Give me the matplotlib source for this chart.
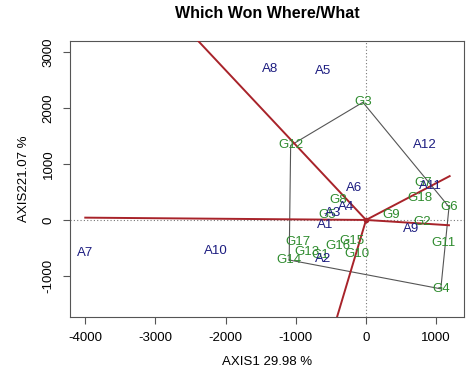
import numpy as np
import matplotlib
matplotlib.use('Agg')
import matplotlib.pyplot as plt

plt.rcParams['font.family'] = ['Liberation Sans', 'DejaVu Sans']
plt.rcParams['axes.unicode_minus'] = False

# %% data (AXIS1, AXIS2 scores)

gen_names = ['G1', 'G2', 'G3', 'G4', 'G5', 'G6', 'G7', 'G8', 'G9', 'G10',
             'G11', 'G12', 'G13', 'G14', 'G15', 'G16', 'G17', 'G18']
gen_x = [-655, 793, -45, 1065, -551, 1182, 807, -394, 352, -124,
         1101, -1074, -845, -1095, -204, -394, -964, 769]
gen_y = [-625, -41, 2100, -1230, 89, 232, 655, 357, 89, -607,
         -405, 1330, -565, -715, -369, -464, -399, 387]

env_names = ['A1', 'A2', 'A3', 'A4', 'A5', 'A6', 'A7', 'A8', 'A9', 'A10', 'A11', 'A12']
env_x = [-584, -608, -466, -289, -608, -166, -4003, -1368, 641, -2141, 912, 840]
env_y = [-89, -702, 130, 238, 2666, 566, -595, 2696, -166, -548, 612, 1339]

# ray lengths for each hull edge, in data units (edge start vertex -> length)
ray_len = {'G3': 5000, 'G12': 4000, 'G14': 5000, 'G4': 1185, 'G6': 1425}

# %% convex hull of the genotypes (monotone chain)

pts = sorted(zip(gen_x, gen_y, gen_names))

def cross(o, a, b):
    return (a[0] - o[0]) * (b[1] - o[1]) - (a[1] - o[1]) * (b[0] - o[0])

lower = []
for p in pts:
    while len(lower) >= 2 and cross(lower[-2], lower[-1], p) <= 0:
        lower.pop()
    lower.append(p)
upper = []
for p in reversed(pts):
    while len(upper) >= 2 and cross(upper[-2], upper[-1], p) <= 0:
        upper.pop()
    upper.append(p)
hull = lower[:-1] + upper[:-1]

# %% plot

fig = plt.figure(figsize=(4.74, 3.75), dpi=100)
ax = fig.add_axes([0.1477, 0.1555, 0.8313, 0.736])

ax.axhline(0, color='#777777', lw=0.8, ls=(0, (1, 2)), zorder=1)
ax.axvline(0, color='#777777', lw=0.8, ls=(0, (1, 2)), zorder=1)

hx = [p[0] for p in hull] + [hull[0][0]]
hy = [p[1] for p in hull] + [hull[0][1]]
ax.plot(hx, hy, color='#555555', lw=0.8, zorder=2)

# rays perpendicular to each hull side
n = len(hull)
for i in range(n):
    a = np.array(hull[i][:2], float)
    b = np.array(hull[(i + 1) % n][:2], float)
    e = b - a
    perp = np.array([e[1], -e[0]])
    mid = (a + b) / 2
    if np.dot(perp, mid) < 0:
        perp = -perp
    perp = perp / np.linalg.norm(perp)
    L = ray_len.get(hull[i][2], ray_len.get(hull[(i + 1) % n][2], 3000))
    ax.plot([0, perp[0] * L], [0, perp[1] * L], color='#A8232A', lw=1.4, zorder=3)

ax.plot([0], [0], 'o', color='#A8232A', ms=3, zorder=4)

for name, x, y in zip(gen_names, gen_x, gen_y):
    ax.text(x, y, name, color='#2E8B2E', fontsize=9.5, ha='center', va='center', zorder=5)
for name, x, y in zip(env_names, env_x, env_y):
    ax.text(x, y, name, color='#1C1C80', fontsize=9.5, ha='center', va='center', zorder=5)

ax.set_xlim(-4217, 1396)
ax.set_ylim(-1727, 3200)
ax.set_xticks([-4000, -3000, -2000, -1000, 0, 1000])
ax.set_yticks([-1000, 0, 1000, 2000, 3000])
for lab in ax.get_yticklabels():
    lab.set_rotation(90)
    lab.set_va('center')
ax.tick_params(direction='out', length=5, width=0.8, color='#555555', labelsize=9.5, pad=6)
for s in ax.spines.values():
    s.set_color('#555555')
    s.set_linewidth(0.8)

ax.set_xlabel('AXIS1 29.98 %', fontsize=9.5, labelpad=9)
ax.set_ylabel('AXIS221.07 %', fontsize=9.5, labelpad=9)
ax.set_title('Which Won Where/What', fontsize=11.5, fontweight='bold', pad=16)

fig.savefig('out.png', dpi=100)
